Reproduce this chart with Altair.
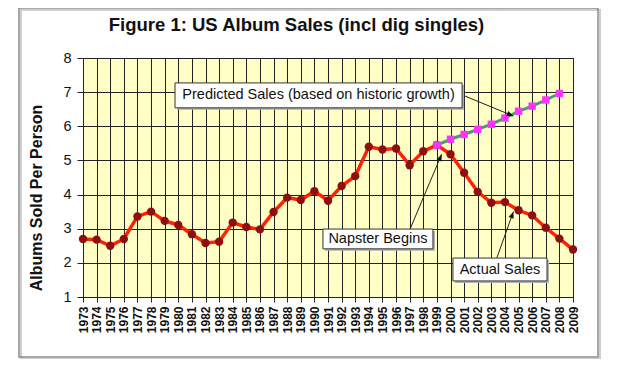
import math
import altair as alt
import pandas as pd

# ---- data ----
years = list(range(1973, 2010))
actual = [2.70, 2.68, 2.50, 2.70, 3.36, 3.50, 3.23, 3.11, 2.84, 2.58,
          2.62, 3.18, 3.05, 2.98, 3.49, 3.91, 3.84, 4.10, 3.82, 4.25,
          4.54, 5.40, 5.32, 5.35, 4.86, 5.27, 5.45, 5.18, 4.64, 4.08,
          3.76, 3.78, 3.54, 3.39, 3.03, 2.71, 2.39]
pred_years = list(range(1999, 2009))
predicted = [5.45, 5.62, 5.76, 5.91, 6.06, 6.24, 6.44, 6.59, 6.77, 6.96]
y_ticks = [1, 2, 3, 4, 5, 6, 7, 8]

title_text = "Figure 1: US Album Sales (incl dig singles)"
y_title = "Albums Sold Per Person"

# annotations (data coordinates)
ann_labels = ["Predicted Sales (based on historic growth)", "Napster Begins", "Actual Sales"]
box_x1 = [1979.76, 1990.63, 2000.18]
box_x2 = [2000.85, 1998.71, 2007.09]
box_y1 = [7.27, 2.99, 2.14]
box_y2 = [6.54, 2.41, 1.47]
arr_x1 = [2000.85, 1997.03, 2003.40]
arr_y1 = [6.92, 2.99, 2.14]
arr_x2 = [2004.62, 1999.35, 2004.62]
arr_y2 = [6.30, 5.18, 3.50]

# ---- layout ----
W, H = 490, 239
PX_X = W / 36.0
PX_Y = H / 7.0
FONT = "Liberation Sans"

df_act = pd.DataFrame({"year": years, "value": actual})
df_pred = pd.DataFrame({"year": pred_years, "value": predicted})
df_box = pd.DataFrame({
    "label": ann_labels, "year": box_x1, "x2": box_x2, "value": box_y1, "y2": box_y2,
    "cx": [(a + b) / 2 for a, b in zip(box_x1, box_x2)],
    "cy": [(a + b) / 2 for a, b in zip(box_y1, box_y2)],
})
angles = []
for a, b, c, d in zip(arr_x1, arr_y1, arr_x2, arr_y2):
    dx = (c - a) * PX_X
    dy = -(d - b) * PX_Y
    angles.append(math.degrees(math.atan2(dx, -dy)) % 360)
df_arr = pd.DataFrame({"x1": arr_x1, "y1": arr_y1, "x2": arr_x2, "y2": arr_y2, "ang": angles})

xscale = alt.Scale(domain=[1973, 2009], nice=False, zero=False)
yscale = alt.Scale(domain=[1, 8], nice=False, zero=False)

x_axis = alt.Axis(values=years, format="d", labelAngle=270, labelFontSize=12,
                  labelFontWeight="bold", labelFont=FONT, labelColor="#111",
                  labelOverlap=False, labelFlush=False, labelPadding=4,
                  grid=True, gridColor="#222", gridWidth=1, tickSize=5,
                  tickColor="#222", domainColor="#222", title=None)
y_axis = alt.Axis(values=y_ticks, labelFontSize=14.5, labelFontWeight="normal",
                  labelFont=FONT, labelColor="#111", labelPadding=6,
                  labelOverlap=False,
                  grid=True, gridColor="#222", gridWidth=1, tickSize=6,
                  tickColor="#222", domainColor="#222",
                  title=y_title, titleFont=FONT, titleFontSize=16,
                  titleFontWeight="bold", titleColor="#111",
                  titleAngle=270, titleX=-47, titleY=139.5,
                  titleAlign="center", titleBaseline="middle")


def X(field):
    return alt.X(f"{field}:Q", scale=xscale, axis=x_axis)


def Y(field):
    return alt.Y(f"{field}:Q", scale=yscale, axis=y_axis)


one = pd.DataFrame({"t": [title_text]})

frame_shadow = alt.Chart(one).mark_rect(fillOpacity=0, stroke="#cfcfcf", strokeWidth=2).encode(
    x=alt.value(-62), x2=alt.value(517), y=alt.value(-48), y2=alt.value(301))
frame = alt.Chart(one).mark_rect(fillOpacity=0, stroke="#8a8a8a", strokeWidth=1.5).encode(
    x=alt.value(-64), x2=alt.value(515), y=alt.value(-50), y2=alt.value(299))
title = alt.Chart(one).mark_text(font=FONT, fontSize=18.5, fontWeight="bold", color="#111",
                                 align="center", baseline="middle").encode(
    x=alt.value(213.5), y=alt.value(-33), text="t:N")

act_line = alt.Chart(df_act).mark_line(color="#ff2200", strokeWidth=3.5).encode(x=X("year"), y=Y("value"))
act_pts = alt.Chart(df_act).mark_point(shape="circle", filled=True, color="#8e0f0f",
                                       size=70, opacity=1).encode(x=X("year"), y=Y("value"))
pred_line = alt.Chart(df_pred).mark_line(color="#4a9a78", strokeWidth=3).encode(x=X("year"), y=Y("value"))
pred_pts = alt.Chart(df_pred).mark_point(shape="square", filled=True, color="#ff33ff",
                                         size=55, opacity=1).encode(x=X("year"), y=Y("value"))

arrows = alt.Chart(df_arr).mark_rule(color="#222", strokeWidth=1).encode(
    x=X("x1"), y=Y("y1"), x2="x2:Q", y2="y2:Q")
heads = alt.Chart(df_arr).mark_point(shape="M0,0L-0.4,1L0.4,1Z", filled=True,
                                     color="#111", size=180, opacity=1).encode(
    x=X("x2"), y=Y("y2"), angle=alt.Angle("ang:Q", scale=None))

box_shadow = alt.Chart(df_box).mark_rect(fill="#b0b0b0", xOffset=2, yOffset=2, x2Offset=2, y2Offset=2).encode(
    x=X("year"), x2="x2:Q", y=Y("value"), y2="y2:Q")
boxes = alt.Chart(df_box).mark_rect(fill="white", stroke="#333", strokeWidth=1).encode(
    x=X("year"), x2="x2:Q", y=Y("value"), y2="y2:Q")
texts = alt.Chart(df_box).mark_text(font=FONT, fontSize=14.5, color="#111",
                                    align="center", baseline="middle").encode(
    x=X("cx"), y=Y("cy"), text="label:N")

chart = alt.layer(
    act_line, act_pts, pred_line, pred_pts, arrows, heads,
    box_shadow, boxes, texts, frame_shadow, frame, title
).properties(
    width=W, height=H,
    autosize=alt.AutoSizeParams(type="none"),
    padding={"left": 75, "top": 50, "right": 30, "bottom": 62},
    background="white",
).configure_view(
    fill="#ffffc6", stroke="#222", strokeWidth=1
)

chart.save("out.html", embed_options={"renderer": "svg", "actions": False})
